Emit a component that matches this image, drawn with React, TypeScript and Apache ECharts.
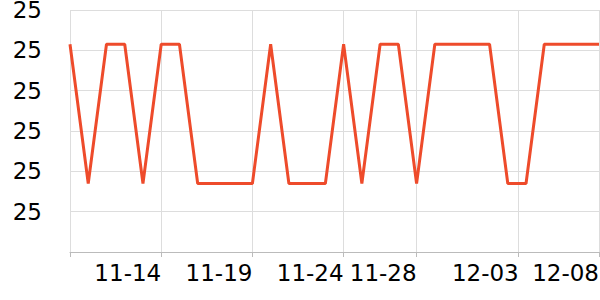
import React, { useEffect, useRef } from "react";
import * as echarts from "echarts";

const dates = [
  "2023-11-09", "2023-11-10", "2023-11-11", "2023-11-12", "2023-11-13",
  "2023-11-14", "2023-11-15", "2023-11-16", "2023-11-17", "2023-11-18",
  "2023-11-19", "2023-11-20", "2023-11-21", "2023-11-22", "2023-11-23",
  "2023-11-24", "2023-11-25", "2023-11-26", "2023-11-27", "2023-11-28",
  "2023-11-29", "2023-11-30", "2023-12-01", "2023-12-02", "2023-12-03",
  "2023-12-04", "2023-12-05", "2023-12-06", "2023-12-07", "2023-12-08",
];

const values = [
  25.215, 24.87, 25.215, 25.215, 24.87, 25.215, 25.215, 24.87, 24.87, 24.87,
  24.87, 25.215, 24.87, 24.87, 24.87, 25.215, 24.87, 25.215, 25.215, 24.87,
  25.215, 25.215, 25.215, 25.215, 24.87, 24.87, 25.215, 25.215, 25.215, 25.215,
];

const tickDates = [
  "2023-11-09 00:00", "2023-11-14 00:00", "2023-11-19 00:00", "2023-11-24 00:00",
  "2023-11-28 00:00", "2023-12-03 14:24", "2023-12-08 00:00",
];
const labelDates = tickDates.slice(1);

function toTs(s: string): number {
  const [d, t] = s.split(" ");
  const [y, m, dd] = d.split("-").map(Number);
  const [hh, mm] = (t || "00:00").split(":").map(Number);
  return new Date(y, m - 1, dd, hh, mm).getTime();
}

function pad(n: number) {
  return n < 10 ? "0" + n : "" + n;
}

export default function App() {
  const ref = useRef<HTMLDivElement>(null);
  useEffect(() => {
    document.body.style.margin = "0";
    const chart = echarts.init(ref.current!, undefined, { renderer: "svg" });
    const font = "DejaVu Sans";
    chart.setOption({
      animation: false,
      grid: { left: 70, right: 1, top: 10, bottom: 48, containLabel: false, outerBoundsMode: "none" },
      xAxis: {
        type: "value",
        min: toTs(dates[0]),
        max: toTs(dates[dates.length - 1]),
        axisLine: { show: true, lineStyle: { color: "#bbb", width: 1 } },
        axisTick: { show: true, length: 5, lineStyle: { color: "#bbb" }, customValues: tickDates.map(toTs) },
        splitLine: { show: true, lineStyle: { color: "#ddd", width: 1 } },
        axisLabel: {
          customValues: labelDates.map(toTs),
          align: "right",
          margin: 9,
          fontSize: 23,
          fontFamily: font,
          color: "#000",
          formatter: (v: number) => {
            const d = new Date(v);
            return pad(d.getMonth() + 1) + "-" + pad(d.getDate());
          },
        },
      },
      yAxis: {
        type: "value",
        min: 24.7,
        max: 25.3,
        interval: 0.1,
        axisLine: { show: false },
        axisTick: { show: false },
        splitLine: { show: true, lineStyle: { color: "#ddd", width: 1 } },
        axisLabel: {
          showMinLabel: false,
          margin: 28,
          fontSize: 23,
          fontFamily: font,
          color: "#000",
          formatter: (v: number) => String(Math.round(v)),
        },
      },
      series: [
        {
          type: "line",
          data: dates.map((d, i) => [toTs(d), values[i]]),
          showSymbol: false,
          symbol: "none",
          lineStyle: { color: "#ee4b2b", width: 3 },
        },
      ],
    });
    return () => chart.dispose();
  }, []);
  return <div ref={ref} style={{ width: 600, height: 300 }} />;
}
